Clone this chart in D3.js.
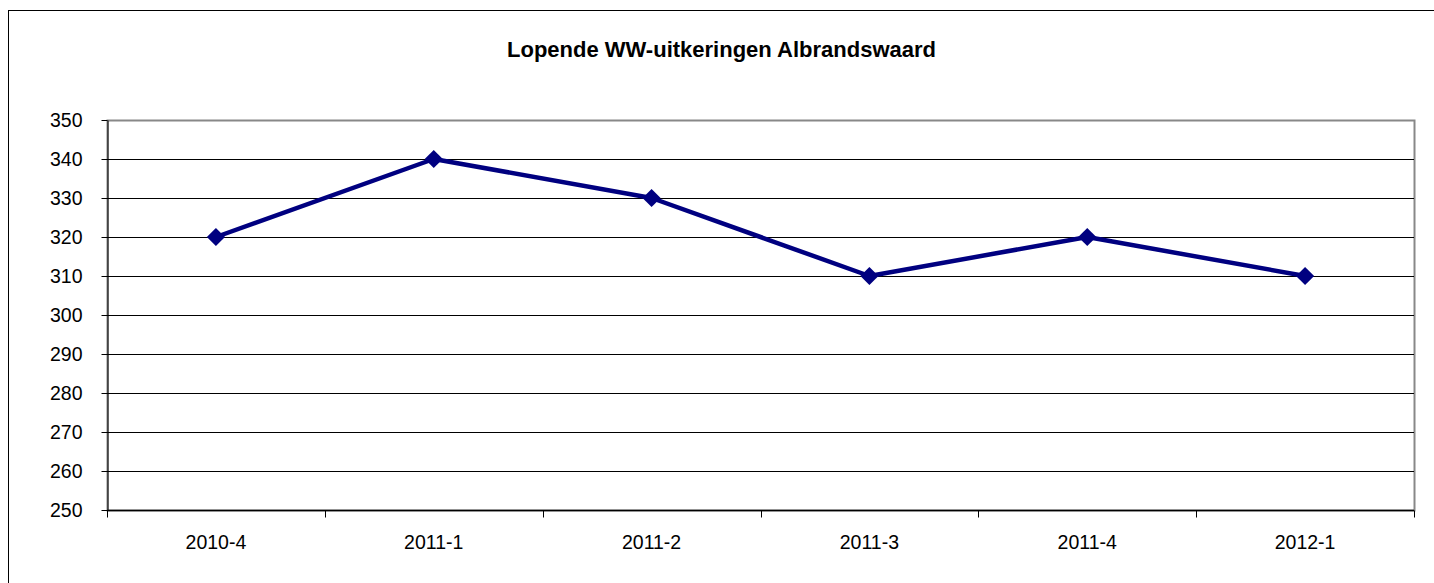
<!DOCTYPE html>
<html>
<head>
<meta charset="utf-8">
<script src="https://cdn.jsdelivr.net/npm/d3@7"></script>
<style>
  body { margin: 0; background: #fff; }
  text { font-family: "Liberation Sans", Arial, sans-serif; }
</style>
</head>
<body>
<div id="chart"></div>
<script>
// data
var quarters = ["2010-4", "2011-1", "2011-2", "2011-3", "2011-4", "2012-1"];
var uitkeringen = [320, 340, 330, 310, 320, 310];
var yTicks = [250, 260, 270, 280, 290, 300, 310, 320, 330, 340, 350];

var svgWidth = 1434, svgHeight = 583;
var margin = { top: 120, right: 20, bottom: 72, left: 107 };
var chartWidth = 1414 - margin.left;
var chartHeight = 510 - margin.top;

var svg = d3.select("#chart")
  .append("svg")
  .attr("width", svgWidth)
  .attr("height", svgHeight);

// outer chart border (right/bottom fall off the page)
svg.append("rect")
  .attr("x", 8.5).attr("y", 10.5)
  .attr("width", 1440).attr("height", 600)
  .attr("fill", "none")
  .attr("stroke", "#000")
  .attr("stroke-width", 1);

svg.append("text")
  .attr("x", 721.5).attr("y", 57)
  .attr("text-anchor", "middle")
  .attr("font-size", "22px")
  .attr("font-weight", "bold")
  .text("Lopende WW-uitkeringen Albrandswaard");

var chartGroup = svg.append("g")
  .attr("transform", `translate(${margin.left}, ${margin.top})`);

var x = d3.scaleBand().domain(quarters).range([0, chartWidth]);
var y = d3.scaleLinear().domain([250, 350]).range([chartHeight, 0]);

// plot frame
chartGroup.append("rect")
  .attr("x", 0.5).attr("y", 0.5)
  .attr("width", chartWidth).attr("height", chartHeight)
  .attr("fill", "none")
  .attr("stroke", "#888")
  .attr("stroke-width", 2);

// gridlines
chartGroup.append("g")
  .selectAll("line")
  .data(yTicks.slice(1, -1))
  .enter()
  .append("line")
  .attr("x1", 0).attr("x2", chartWidth)
  .attr("y1", d => Math.round(y(d)) + 0.5)
  .attr("y2", d => Math.round(y(d)) + 0.5)
  .attr("stroke", "#000")
  .attr("stroke-width", 1);

// y axis
var yAxis = d3.axisLeft(y).tickValues(yTicks).tickSize(6).tickPadding(19).tickSizeOuter(0);
var yg = chartGroup.append("g").attr("transform", "translate(0.5,0)").call(yAxis);
yg.selectAll("text").attr("font-size", "19.5px").attr("fill", "#000").attr("font-family", "Liberation Sans, Arial, sans-serif");
yg.selectAll("line").attr("stroke", "#000");
yg.select(".domain").attr("stroke", "#000");

// x axis with ticks on band boundaries
var xg = chartGroup.append("g").attr("transform", `translate(0, ${chartHeight + 0.5})`);
xg.append("line")
  .attr("x1", 0).attr("x2", chartWidth)
  .attr("stroke", "#000").attr("stroke-width", 1.5);
xg.selectAll("line.tick")
  .data(quarters.concat(["end"]))
  .enter()
  .append("line")
  .attr("class", "tick")
  .attr("x1", (d, i) => Math.round(i * x.step()) + 0.5)
  .attr("x2", (d, i) => Math.round(i * x.step()) + 0.5)
  .attr("y1", 0).attr("y2", 7)
  .attr("stroke", "#000");
xg.selectAll("text")
  .data(quarters)
  .enter()
  .append("text")
  .attr("x", d => x(d) + x.bandwidth() / 2)
  .attr("y", 38)
  .attr("text-anchor", "middle")
  .attr("font-size", "19.5px")
  .text(d => d);

// series line
var line = d3.line()
  .x((d, i) => x(quarters[i]) + x.bandwidth() / 2)
  .y(d => y(d));

chartGroup.append("path")
  .datum(uitkeringen)
  .attr("d", line)
  .attr("fill", "none")
  .attr("stroke", "#000080")
  .attr("stroke-width", 4.5)
  .attr("stroke-linejoin", "round");

// diamond markers
var diamond = d3.symbol().type(d3.symbolDiamond2).size(210);
chartGroup.append("g")
  .selectAll("path")
  .data(uitkeringen)
  .enter()
  .append("path")
  .attr("d", diamond)
  .attr("transform", (d, i) => `translate(${x(quarters[i]) + x.bandwidth() / 2}, ${y(d)})`)
  .attr("fill", "#000080");
</script>
</body>
</html>
